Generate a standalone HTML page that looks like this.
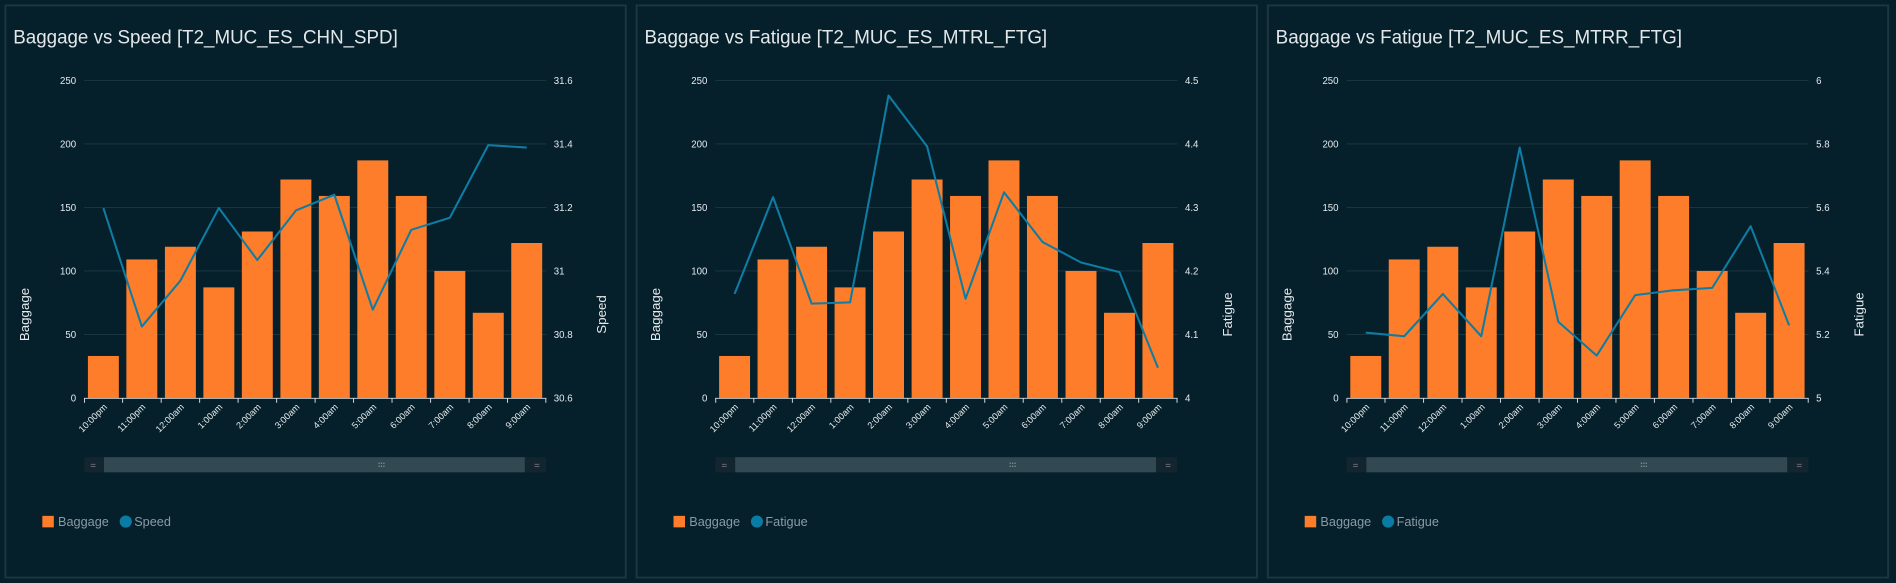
<!DOCTYPE html>
<html><head><meta charset="utf-8"><style>
html,body{margin:0;padding:0;background:#05202b;width:1896px;height:583px;overflow:hidden}
svg{display:block}
text{font-family:"Liberation Sans",sans-serif}
</style></head><body>
<svg width="1896" height="583" viewBox="0 0 1568 482" preserveAspectRatio="none" xmlns="http://www.w3.org/2000/svg">
<defs>
<g id="frame">
<rect x="4.5" y="4.5" width="513" height="473" fill="#05202b" stroke="#1d3640" stroke-width="1.6"/>
<g stroke="#1c3844" stroke-width="0.8">
<line x1="69.6" y1="66.5" x2="451.7" y2="66.5"/><line x1="69.6" y1="119" x2="451.7" y2="119"/><line x1="69.6" y1="171.5" x2="451.7" y2="171.5"/><line x1="69.6" y1="224" x2="451.7" y2="224"/><line x1="69.6" y1="276.5" x2="451.7" y2="276.5"/>
</g>
<g fill="#fe7d2a">
<rect x="72.7" y="294.3" width="25.6" height="34.7"/><rect x="104.5" y="214.5" width="25.6" height="114.5"/><rect x="136.4" y="204" width="25.6" height="125"/><rect x="168.2" y="237.6" width="25.6" height="91.4"/><rect x="200" y="191.4" width="25.6" height="137.6"/><rect x="231.9" y="148.4" width="25.6" height="180.6"/><rect x="263.7" y="162" width="25.6" height="167"/><rect x="295.5" y="132.6" width="25.6" height="196.4"/><rect x="327.3" y="162" width="25.6" height="167"/><rect x="359.2" y="224" width="25.6" height="105"/><rect x="391" y="258.6" width="25.6" height="70.4"/><rect x="422.8" y="200.9" width="25.6" height="128.1"/>
</g>
<g stroke="#d8dde0" stroke-width="0.8">
<line x1="69.6" y1="329.3" x2="451.7" y2="329.3"/>
<line x1="69.9" y1="329" x2="69.9" y2="333"/><line x1="101.4" y1="329" x2="101.4" y2="333"/><line x1="133.3" y1="329" x2="133.3" y2="333"/><line x1="165.1" y1="329" x2="165.1" y2="333"/><line x1="196.9" y1="329" x2="196.9" y2="333"/><line x1="228.8" y1="329" x2="228.8" y2="333"/><line x1="260.6" y1="329" x2="260.6" y2="333"/><line x1="292.4" y1="329" x2="292.4" y2="333"/><line x1="324.2" y1="329" x2="324.2" y2="333"/><line x1="356.1" y1="329" x2="356.1" y2="333"/><line x1="387.9" y1="329" x2="387.9" y2="333"/><line x1="419.7" y1="329" x2="419.7" y2="333"/><line x1="451.4" y1="329" x2="451.4" y2="333"/>
</g>
<g fill="#e6eaec" font-size="8" text-anchor="end">
<text x="63" y="69.5">250</text><text x="63" y="122">200</text><text x="63" y="174.5">150</text><text x="63" y="227">100</text><text x="63" y="279.5">50</text><text x="63" y="332">0</text>
</g>
<g fill="#e6eaec" font-size="7.6" text-anchor="end">
<text transform="translate(89,337) rotate(-45)">10:00pm</text><text transform="translate(120.8,337) rotate(-45)">11:00pm</text><text transform="translate(152.7,337) rotate(-45)">12:00am</text><text transform="translate(184.5,337) rotate(-45)">1:00am</text><text transform="translate(216.3,337) rotate(-45)">2:00am</text><text transform="translate(248.2,337) rotate(-45)">3:00am</text><text transform="translate(280,337) rotate(-45)">4:00am</text><text transform="translate(311.8,337) rotate(-45)">5:00am</text><text transform="translate(343.6,337) rotate(-45)">6:00am</text><text transform="translate(375.5,337) rotate(-45)">7:00am</text><text transform="translate(407.3,337) rotate(-45)">8:00am</text><text transform="translate(439.1,337) rotate(-45)">9:00am</text>
</g>
<rect x="69.6" y="378" width="382" height="12.5" fill="#13262f"/>
<rect x="86" y="378" width="348" height="12.5" fill="#324853"/>
<rect x="75" y="383.5" width="4" height="0.8" fill="#667"/><rect x="75" y="385.3" width="4" height="0.8" fill="#667"/>
<rect x="442" y="383.5" width="4" height="0.8" fill="#667"/><rect x="442" y="385.3" width="4" height="0.8" fill="#667"/>
<g fill="#8a9aa3"><rect x="313" y="382.5" width="1" height="1"/><rect x="315" y="382.5" width="1" height="1"/><rect x="317" y="382.5" width="1" height="1"/><rect x="313" y="385" width="1" height="1"/><rect x="315" y="385" width="1" height="1"/><rect x="317" y="385" width="1" height="1"/></g>
<rect x="35" y="426.5" width="9.5" height="9.5" fill="#fe7d2a"/>
<circle cx="104" cy="431.2" r="5" fill="#0a7ca4"/>
<text fill="#e6eaec" font-size="11" transform="translate(24,260) rotate(-90)" text-anchor="middle">Baggage</text>
</g>
</defs>

<!-- Panel 1 -->
<g>
<use href="#frame"/>
<text x="11" y="36" fill="#e3e7ea" font-size="16" textLength="318" lengthAdjust="spacingAndGlyphs">Baggage vs Speed [T2_MUC_ES_CHN_SPD]</text>
<g fill="#e6eaec" font-size="8"><text x="458" y="69.5">31.6</text><text x="458" y="122">31.4</text><text x="458" y="174.5">31.2</text><text x="458" y="227">31</text><text x="458" y="279.5">30.8</text><text x="458" y="332">30.6</text></g>
<text transform="translate(501,260) rotate(-90)" fill="#e6eaec" font-size="11" text-anchor="middle">Speed</text>
<polyline fill="none" stroke="#0e7ca3" stroke-width="1.7" stroke-linejoin="round" points="85.5,172 117.3,270 149.2,232 181,172 212.8,215 244.7,174 276.5,161 308.3,256 340.1,190 372,180 403.8,120 435.6,122"/>
<text x="48" y="435" fill="#8a9aa3" font-size="10.5">Baggage</text><text x="111" y="435" fill="#8a9aa3" font-size="10.5">Speed</text>
</g>

<!-- Panel 2 -->
<g transform="translate(522,0)">
<use href="#frame"/>
<text x="11" y="36" fill="#e3e7ea" font-size="16" textLength="333" lengthAdjust="spacingAndGlyphs">Baggage vs Fatigue [T2_MUC_ES_MTRL_FTG]</text>
<g fill="#e6eaec" font-size="8"><text x="458" y="69.5">4.5</text><text x="458" y="122">4.4</text><text x="458" y="174.5">4.3</text><text x="458" y="227">4.2</text><text x="458" y="279.5">4.1</text><text x="458" y="332">4</text></g>
<text transform="translate(497,260) rotate(-90)" fill="#e6eaec" font-size="11" text-anchor="middle">Fatigue</text>
<polyline fill="none" stroke="#0e7ca3" stroke-width="1.7" stroke-linejoin="round" points="85.5,243 117.3,163 149.2,251 181,250 212.8,79 244.7,121 276.5,247 308.3,159 340.1,200 372,217 403.8,225 435.6,304"/>
<text x="48" y="435" fill="#8a9aa3" font-size="10.5">Baggage</text><text x="111" y="435" fill="#8a9aa3" font-size="10.5">Fatigue</text>
</g>

<!-- Panel 3 -->
<g transform="translate(1044,0)">
<use href="#frame"/>
<text x="11" y="36" fill="#e3e7ea" font-size="16" textLength="336" lengthAdjust="spacingAndGlyphs">Baggage vs Fatigue [T2_MUC_ES_MTRR_FTG]</text>
<g fill="#e6eaec" font-size="8"><text x="458" y="69.5">6</text><text x="458" y="122">5.8</text><text x="458" y="174.5">5.6</text><text x="458" y="227">5.4</text><text x="458" y="279.5">5.2</text><text x="458" y="332">5</text></g>
<text transform="translate(497,260) rotate(-90)" fill="#e6eaec" font-size="11" text-anchor="middle">Fatigue</text>
<polyline fill="none" stroke="#0e7ca3" stroke-width="1.7" stroke-linejoin="round" points="85.5,275 117.3,278 149.2,243 181,278 212.8,122 244.7,266 276.5,294 308.3,244 340.1,240 372,238 403.8,187 435.6,269"/>
<text x="48" y="435" fill="#8a9aa3" font-size="10.5">Baggage</text><text x="111" y="435" fill="#8a9aa3" font-size="10.5">Fatigue</text>
</g>
</svg>
</body></html>
